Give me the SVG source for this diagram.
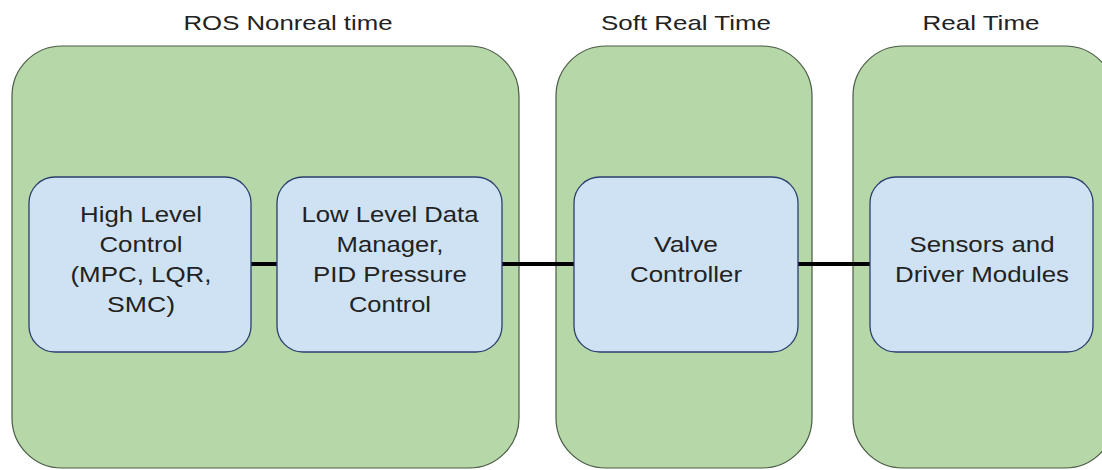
<svg xmlns="http://www.w3.org/2000/svg" width="1102" height="470" viewBox="0 0 1102 470">
  <style>
    .zone { fill: #b6d7a8; stroke: #4a5a44; stroke-width: 1.2; }
    .box { fill: #cfe2f3; stroke: #2b3f6e; stroke-width: 1.3; }
    .title { font-family: "Liberation Sans", Arial, sans-serif; font-size: 21px; fill: #222; text-anchor: middle; }
    .label { font-family: "Liberation Sans", Arial, sans-serif; font-size: 22px; fill: #222; text-anchor: middle; }
    .link { stroke: #000; stroke-width: 4; fill: none; }
  </style>
  <rect width="1102" height="470" fill="#ffffff"/>

  <!-- timing domains -->
  <g id="zone-ros">
    <rect class="zone" x="12" y="46" width="507" height="422" rx="50" ry="50"/>
    <text class="title" x="288" y="30" textLength="209" lengthAdjust="spacingAndGlyphs">ROS Nonreal time</text>
  </g>
  <g id="zone-soft">
    <rect class="zone" x="556" y="46" width="256" height="422" rx="50" ry="50"/>
    <text class="title" x="686" y="30" textLength="170" lengthAdjust="spacingAndGlyphs">Soft Real Time</text>
  </g>
  <g id="zone-real">
    <rect class="zone" x="853" y="46" width="262" height="422" rx="50" ry="50"/>
    <text class="title" x="981" y="30" textLength="117" lengthAdjust="spacingAndGlyphs">Real Time</text>
  </g>

  <!-- connectors -->
  <g id="connectors">
    <line class="link" x1="251" y1="264" x2="277" y2="264"/>
    <line class="link" x1="502" y1="264" x2="574" y2="264"/>
    <line class="link" x1="798" y1="264" x2="870" y2="264"/>
  </g>

  <!-- modules -->
  <g id="high-level">
    <rect class="box" x="29" y="177" width="222" height="175" rx="26" ry="26"/>
    <text class="label" x="141" y="222" textLength="122" lengthAdjust="spacingAndGlyphs">High Level</text>
    <text class="label" x="141" y="252" textLength="83" lengthAdjust="spacingAndGlyphs">Control</text>
    <text class="label" x="141" y="282" textLength="141" lengthAdjust="spacingAndGlyphs">(MPC, LQR,</text>
    <text class="label" x="141" y="312" textLength="68" lengthAdjust="spacingAndGlyphs">SMC)</text>
  </g>
  <g id="low-level">
    <rect class="box" x="277" y="177" width="225" height="175" rx="26" ry="26"/>
    <text class="label" x="390" y="222" textLength="177" lengthAdjust="spacingAndGlyphs">Low Level Data</text>
    <text class="label" x="390" y="252" textLength="107" lengthAdjust="spacingAndGlyphs">Manager,</text>
    <text class="label" x="390" y="282" textLength="154" lengthAdjust="spacingAndGlyphs">PID Pressure</text>
    <text class="label" x="390" y="312" textLength="82" lengthAdjust="spacingAndGlyphs">Control</text>
  </g>
  <g id="valve">
    <rect class="box" x="574" y="177" width="224" height="175" rx="26" ry="26"/>
    <text class="label" x="686" y="252" textLength="64" lengthAdjust="spacingAndGlyphs">Valve</text>
    <text class="label" x="686" y="282" textLength="112" lengthAdjust="spacingAndGlyphs">Controller</text>
  </g>
  <g id="sensors">
    <rect class="box" x="870" y="177" width="223" height="175" rx="26" ry="26"/>
    <text class="label" x="982" y="252" textLength="145" lengthAdjust="spacingAndGlyphs">Sensors and</text>
    <text class="label" x="982" y="282" textLength="174" lengthAdjust="spacingAndGlyphs">Driver Modules</text>
  </g>
</svg>
